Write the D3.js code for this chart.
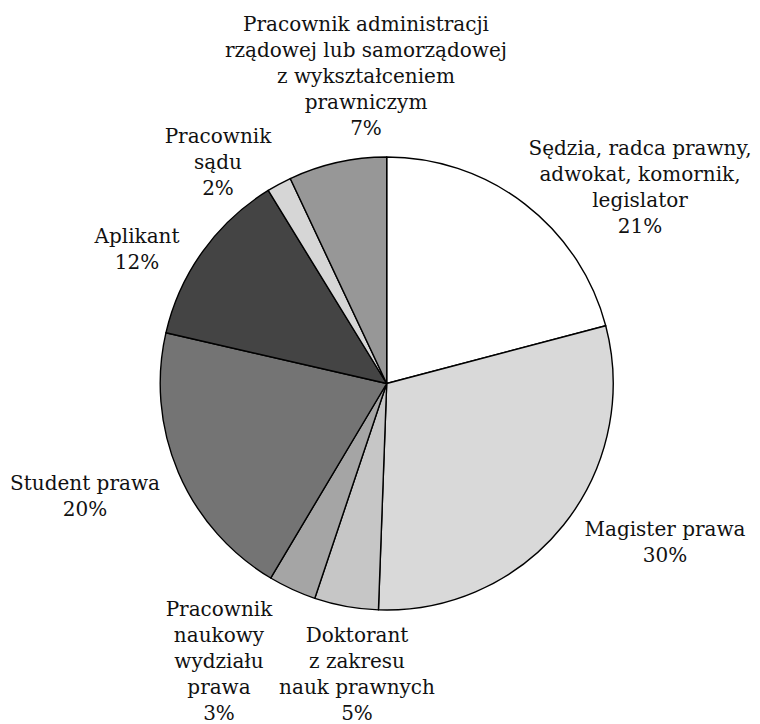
<!DOCTYPE html>
<html>
<head>
<meta charset="utf-8">
<script src="https://cdn.jsdelivr.net/npm/d3@7"></script>
<style>
  body { margin: 0; background: #fff; }
  text { font-family: "DejaVu Serif", serif; font-size: 20px; fill: #111; }
</style>
</head>
<body>
<div id="chart"></div>
<script>
// dane
const categories = [
  "Sędzia, radca prawny,|adwokat, komornik,|legislator",
  "Magister prawa",
  "Doktorant|z zakresu|nauk prawnych",
  "Pracownik|naukowy|wydziału|prawa",
  "Student prawa",
  "Aplikant",
  "Pracownik|sądu",
  "Pracownik administracji|rządowej lub samorządowej|z wykształceniem|prawniczym"
];
const values = [20.9, 29.68, 4.56, 3.42, 20.04, 12.64, 1.76, 7.0];
const pctLabels = ["21%", "30%", "5%", "3%", "20%", "12%", "2%", "7%"];
const colors = ["#ffffff", "#d9d9d9", "#c6c6c6", "#a5a5a5", "#747474", "#444444", "#d6d6d6", "#979797"];

// układ etykiet: środek x i linia bazowa pierwszego wiersza
const labelPos = [
  [640, 155], [665, 536], [357, 642], [219, 616],
  [85, 490], [137, 243], [218, 143], [366, 31]
];

const width = 760, height = 724;
const cx = 386.7, cy = 383.5, radius = 226.5;
const lineH = 26.1;

const svg = d3.select("#chart").append("svg")
  .attr("width", width).attr("height", height);

const pie = d3.pie().sort(null).value(d => d);
const arc = d3.arc().innerRadius(0).outerRadius(radius);

const g = svg.append("g").attr("transform", `translate(${cx},${cy})`);

g.selectAll("path")
  .data(pie(values))
  .enter()
  .append("path")
  .attr("d", arc)
  .attr("fill", (d, i) => colors[i])
  .attr("stroke", "#000")
  .attr("stroke-width", 1.4)
  .attr("stroke-linejoin", "round");

// etykiety
categories.forEach((cat, i) => {
  const lines = cat.split("|").concat([pctLabels[i]]);
  const t = svg.append("text")
    .attr("text-anchor", "middle")
    .attr("x", labelPos[i][0])
    .attr("y", labelPos[i][1]);
  lines.forEach((ln, j) => {
    t.append("tspan")
      .attr("x", labelPos[i][0])
      .attr("y", labelPos[i][1] + j * lineH)
      .text(ln);
  });
});
</script>
</body>
</html>
